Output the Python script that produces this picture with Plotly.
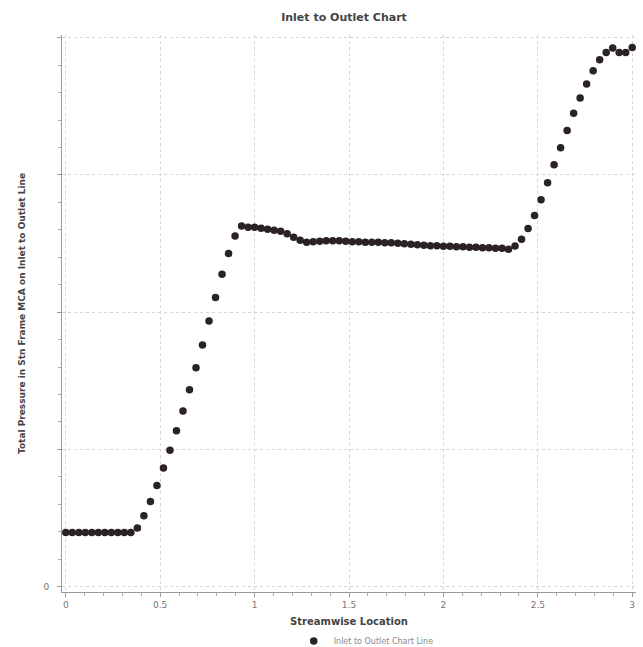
import plotly.graph_objects as go

# Streamwise location of each sample point
x_loc = [round(3 * k / 87, 4) for k in range(88)]

# Total pressure values (in grid units)
pressure = [
    0.393, 0.393, 0.393, 0.393, 0.393, 0.393, 0.393, 0.393, 0.393, 0.393, 0.393,
    0.427, 0.516, 0.620, 0.737, 0.863, 0.994, 1.135, 1.280, 1.435, 1.595,
    1.760, 1.935, 2.107, 2.276, 2.427, 2.555, 2.628, 2.618, 2.618, 2.611,
    2.604, 2.596, 2.589, 2.571, 2.545, 2.524, 2.509, 2.513, 2.516, 2.520,
    2.520, 2.520, 2.516, 2.513, 2.513, 2.509, 2.509, 2.509, 2.505, 2.505,
    2.502, 2.498, 2.495, 2.491, 2.487, 2.484, 2.484, 2.480, 2.480, 2.476,
    2.476, 2.473, 2.473, 2.469, 2.469, 2.465, 2.465, 2.458, 2.482, 2.531,
    2.609, 2.705, 2.820, 2.943, 3.074, 3.198, 3.324, 3.449, 3.561, 3.663,
    3.760, 3.840, 3.893, 3.925, 3.893, 3.893, 3.929,
]

x_tick_vals = [0, 0.5, 1, 1.5, 2, 2.5, 3]
x_tick_text = ["0", "0.5", "1", "1.5", "2", "2.5", "3"]
y_tick_vals = [0, 1, 2, 3, 4]
y_tick_text = ["0", "", "", "", ""]

FONT = "DejaVu Sans"

fig = go.Figure()
fig.add_trace(go.Scatter(
    x=x_loc, y=pressure, mode="markers",
    name="Inlet to Outlet Chart Line",
    marker=dict(color="#2b2226", size=7.5, line=dict(width=0)),
))

fig.update_layout(
    width=643, height=647,
    margin=dict(l=62, r=7, t=35, b=55, autoexpand=False),
    paper_bgcolor="white", plot_bgcolor="white",
    font=dict(family=FONT, color="#555555", size=9),
    title=dict(text="<b>Inlet to Outlet Chart</b>", x=0.535, xanchor="center",
               y=0.974, yanchor="middle",
               font=dict(family=FONT, size=11, color="#444444")),
    showlegend=True,
    legend=dict(orientation="h", x=0.53, xanchor="center", y=-0.088, yanchor="middle",
                font=dict(family=FONT, size=8, color="#888888"),
                bgcolor="rgba(0,0,0,0)"),
)

fig.update_xaxes(
    range=[-0.02, 3.02], tickvals=x_tick_vals, ticktext=x_tick_text,
    automargin=False,
    showgrid=True, gridcolor="#d6d6d6", griddash="dot", gridwidth=1,
    showline=True, linecolor="#9a9a9a", linewidth=1, zeroline=False,
    ticks="outside", ticklen=4, tickcolor="#9a9a9a",
    minor=dict(dtick=0.1, ticks="outside", ticklen=3, tickcolor="#aaaaaa", showgrid=False),
    tickfont=dict(family=FONT, size=9, color="#777777"),
    title=dict(text="<b>Streamwise Location</b>", standoff=9,
               font=dict(family=FONT, size=10, color="#444444")),
)
fig.update_yaxes(
    range=[-0.04, 4.02], tickvals=y_tick_vals, ticktext=y_tick_text,
    automargin=False,
    showgrid=True, gridcolor="#d6d6d6", griddash="dot", gridwidth=1,
    showline=True, linecolor="#9a9a9a", linewidth=1, zeroline=False,
    ticks="outside", ticklen=4, tickcolor="#9a9a9a", ticklabelstandoff=6,
    minor=dict(dtick=0.2, ticks="outside", ticklen=3, tickcolor="#aaaaaa", showgrid=False),
    tickfont=dict(family=FONT, size=9, color="#777777"),
    title=dict(text="<b>Total Pressure in Stn Frame MCA on Inlet to Outlet Line</b>", standoff=16,
               font=dict(family=FONT, size=9, color="#444444")),
)

fig.write_html("out.html", config={"displayModeBar": False},
               post_script="document.body.style.margin='0';document.body.style.overflow='hidden';")
